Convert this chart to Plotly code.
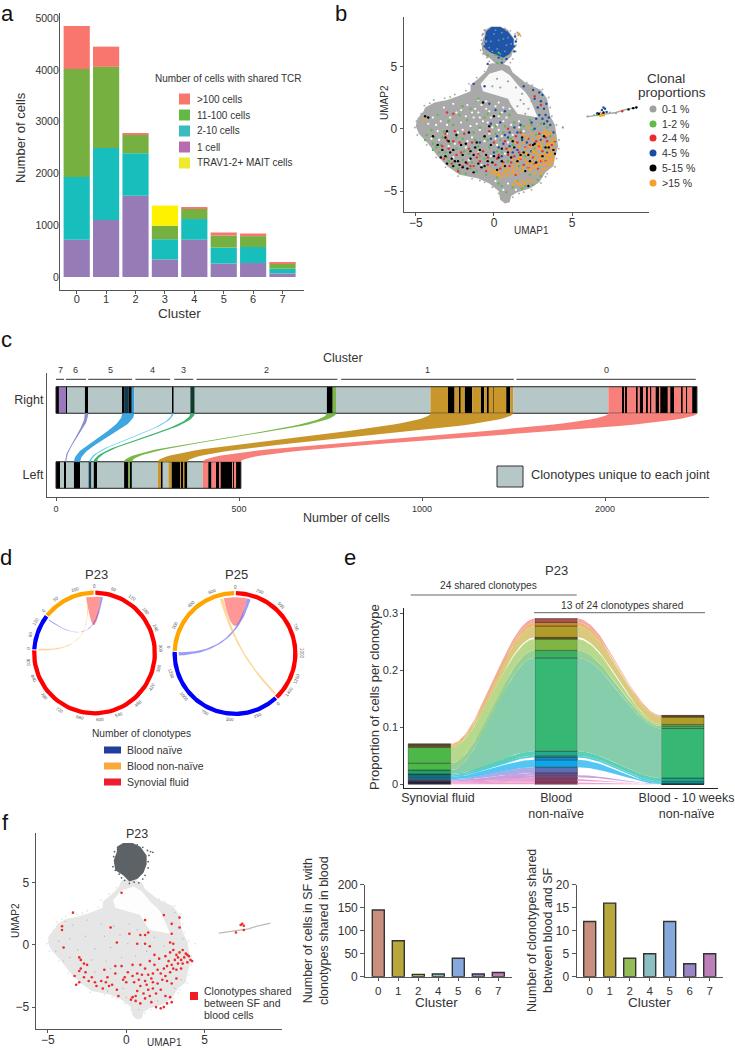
import numpy as np
import plotly.graph_objects as go

# ---------- DATA ----------
# a
a_clusters = [0, 1, 2, 3, 4, 5, 6, 7]
a_one = [720, 1100, 1570, 340, 720, 260, 270, 70]
a_2_10 = [1210, 1390, 820, 390, 400, 310, 310, 90]
a_11_100 = [2090, 1570, 360, 260, 210, 230, 210, 110]
a_mait = [0, 0, 0, 390, 0, 0, 0, 0]
a_100 = [830, 390, 20, 0, 20, 60, 50, 20]
a_legend = [">100 cells", "11-100 cells", "2-10 cells", "1 cell", "TRAV1-2+ MAIT cells"]

# b / f shared silhouette of the UMAP cloud
blob_x = [-5.0, -4.9, -4.5, -4.4, -3.8, -3.0, -2.3, -1.5, -1.5, -1.0, -0.5, -0.3, 0.4, 1.0, 1.2, 2.0, 3.0, 3.4, 3.5, 3.6, 3.9, 4.0, 4.1, 3.9, 3.8, 3.3, 2.9, 2.3, 1.5, 1.1, 1.0, 0.7, 0.4, 0.3, -0.3, -1.0, -2.2, -3.0, -3.6, -4.2, -4.8]
blob_y = [0.2, 0.8, 1.4, 1.7, 2.1, 2.3, 2.6, 3.0, 3.5, 4.0, 4.6, 5.2, 5.3, 5.0, 4.5, 3.7, 3.1, 2.4, 1.6, 1.0, 0.3, -0.6, -1.4, -2.3, -3.0, -3.5, -4.3, -4.8, -5.1, -5.4, -5.9, -6.0, -5.7, -5.0, -4.4, -4.0, -3.7, -3.0, -2.2, -1.2, -0.4]
hole_x = [-0.85, -0.3, 0.5, 1.0, 1.6, 2.0, 2.3, 2.6, 2.8, 1.5, 1.1, 0.9, 0.1, -0.7]
hole_y = [3.6, 4.4, 4.7, 4.3, 3.4, 2.95, 2.4, 1.4, 0.9, 1.2, 1.9, 2.4, 2.7, 3.0]
head_x = [-0.6, -0.2, 0.4, 0.9, 1.3, 1.3, 1.1, 0.7, 0.2, -0.2, -0.7, -0.8, -0.6]
head_y = [7.9, 8.2, 8.2, 7.9, 7.2, 6.5, 5.8, 5.3, 5.1, 5.6, 6.0, 6.8, 7.5]
head_core_x = [-0.5, -0.15, 0.4, 0.85, 1.25, 1.25, 1.0, 0.6, 0.2, -0.2, -0.55, -0.6]
head_core_y = [7.8, 8.15, 8.15, 7.85, 7.2, 6.5, 6.0, 5.7, 5.9, 6.1, 6.4, 7.0]
tail_x = [5.9, 6.5, 7.0, 7.8, 8.3, 9.2]
tail_y = [0.95, 1.05, 1.15, 1.3, 1.5, 1.75]
head_edge = [(-0.75,7.5),(-0.8,7.1),(-0.7,6.6),(-0.85,6.3),(-0.7,6.0),(-0.45,5.7),(-0.3,5.4),(-0.1,5.2),(0.2,4.95),(0.5,5.05),(0.8,5.0),(1.05,5.3),(1.2,5.6),(1.4,6.2),(1.4,6.7),(1.45,7.2),(1.35,7.6),(1.05,7.85),(0.7,8.05),(1.55,7.5),(1.7,7.45)]
head_gaps = [(0.0,7.6),(0.5,7.7),(0.9,7.3),(-0.2,7.0),(0.3,7.1),(0.8,6.7),(-0.3,6.5),(0.2,6.4),(0.7,6.2),(1.1,6.8),(0.1,7.9),(0.6,7.2),(-0.1,6.2),(0.4,6.0)]
blob_edge = [(-5.05,0.1),(-4.95,0.6),(-4.65,1.2),(-4.45,1.85),(-3.85,2.3),(-3.15,2.45),(-2.5,2.75),(-1.8,3.05),(-1.6,3.6),(-1.1,4.1),(-0.6,4.6),(1.25,4.35),(2.1,3.7),(3.1,3.15),(3.5,2.5),(3.6,1.7),(3.7,1.0),(4.0,0.3),(4.15,-0.9),(4.15,-1.6),(4.0,-2.4),(3.9,-3.05),(3.4,-3.6),(3.0,-4.35),(2.4,-4.9),(1.6,-5.2),(1.2,-5.5),(0.3,-5.2),(-0.1,-4.7),(-0.6,-4.3),(-1.4,-4.0),(-2.3,-3.8),(-3.1,-3.1),(-3.7,-2.3),(-4.3,-1.3),(-4.9,-0.5),(4.4,0.1),(-4.1,2.05),(-2.8,2.55),(2.45,3.5),(-0.9,-4.15),(3.3,-3.85),(1.9,-5.1)]

b_gaps = [(-3.2,1.7),(-2.6,2.0),(-2.1,1.5),(-1.7,1.9),(-1.2,1.6),(-1.0,1.3),(-0.5,1.6),(0.1,1.8),(0.5,1.3),(0.8,0.9),(1.0,1.6),(-0.2,0.9),(-0.7,0.6),(0.2,0.3),(-1.3,0.9),(-1.8,1.0),(-2.1,0.5),(-2.8,0.9),(-3.4,0.6),(-3.9,0.9),(-1.5,0.2),(-0.9,-0.1),(-0.3,-0.4),(0.5,-0.6),(1.1,0.3),(0.9,-1.1),(0.2,-1.3),(-0.6,-1.0),(-1.4,-0.7),(-2.3,-0.3),(-3.0,-0.4),(-2.5,-1.2),(-1.8,-1.5),(-1.0,-1.9),(-0.2,-2.2),(-3.5,-0.9),(-0.5,2.2),(0.3,2.1),(-1.0,2.3),(0.7,-2.0),(1.6,0.6),(1.9,-0.2),(-2.6,-2.3),(-1.6,-2.5),(-0.8,-2.9),(0.1,-4.2),(0.9,-4.4),(0.6,-4.9),(1.4,-4.9),(1.6,0.1),
 (-0.8,1.9),(-1.4,1.3),(-0.3,1.4),(0.3,1.0),(0.6,1.7),(-0.9,0.9),(-0.1,0.1),(0.6,0.6),(-2.4,1.3),(-3.0,0.3),(-3.7,0.3),(-4.2,0.4),(-2.0,-0.1),(-1.1,0.4),(-0.4,0.5),(0.3,-0.1),(1.2,-0.5),(0.1,-0.8),(-1.7,-1.0),(-2.9,-1.4),(-3.6,-0.2),(-4.0,-0.8)]
b_gray = [(-0.7,7.6),(-0.65,7.2),(-0.75,6.8),(-0.7,6.4),(-0.5,6.1),(-0.4,5.8),(0.0,5.5),(0.3,5.2),(0.6,5.3),(-0.6,7.9),(-0.5,7.0),(1.9,2.0),(1.5,1.8),(2.2,1.6),(2.0,1.2),(1.7,2.3),(1.2,1.4),(2.4,2.2),(6.0,1.0),(6.4,1.1),(7.4,1.3),(7.8,1.25),(6.8,1.3),(1.5,7.7),(0.8,7.9),(0.2,4.0),(0.9,3.8),(1.4,3.3),(1.8,2.8),(0.4,3.3),(-0.1,3.4),(4.4,0.1)]
b_green = [(0.1,5.9),(0.3,6.1),(0.5,5.6),(-0.4,5.9),(0.2,5.3),(3.3,-0.2),(3.0,0.4),(2.5,-0.1),(1.9,0.2),(1.3,0.5),(0.7,0.2),(0.1,-0.4),(-0.6,-0.7),(-1.3,-0.3),(-2.0,-0.8),(-2.8,-1.2),(-3.3,-0.7),(-3.9,-1.2),(-4.3,-0.5),(-3.5,-1.9),(-2.9,-2.6),(-2.3,-3.2),(-1.8,-3.6),(-1.1,-3.4),(-0.6,-2.4),(0.2,-1.8),(0.9,-2.6),(1.6,-3.0),(2.3,-3.7),(2.8,-4.1),(2.0,-4.6),(1.2,-4.7),(0.3,-4.4),(0.8,-5.1),(3.6,-0.6),(3.2,-1.5),(2.6,-1.6),(2.0,-2.2),(1.2,-1.3),(0.4,-0.9),(-1.0,-1.4),(-1.6,-2.0),(-2.4,-1.6),(-3.1,-1.9),(-4.0,-0.1),(-2.0,1.8),(-1.0,2.4),(-0.4,1.2),(1.0,1.1),(2.3,0.7),(-3.6,1.1),(-2.6,0.3),(-1.7,0.7),(-0.9,0.1),(6.6,1.1),(-2.2,-3.5),(-1.5,-3.2),(-3.7,-1.5),(1.5,-4.2),(0.2,-3.9),
 (-3.4,-1.3),(-3.0,-2.3),(-2.5,-2.7),(-2.0,-2.5),(-1.4,-2.7),(-0.9,-2.2),(-0.3,-1.5),(0.5,-1.9),(1.1,-0.8),(1.7,-0.1),(2.4,0.3),(3.4,0.1),(2.7,-0.5),(-3.8,-0.7),(-3.2,-0.2),(-2.4,-0.7),(-1.9,-1.8),(-1.2,-0.9),(-0.4,-0.9),(0.1,0.2),(0.6,-0.3),(-0.5,-3.7),(0.5,-4.6),(1.8,-4.8),(2.5,-4.5),(3.0,-3.8),(-4.4,-0.9),(-3.9,-1.7),(-2.7,-3.1),(-2.9,0.6),(-2.2,1.1),(-1.5,1.6),(-0.6,0.9),(0.4,1.2)]
b_red = [(2.9,-0.4),(2.2,-0.8),(1.5,-1.1),(0.8,-1.6),(0.2,-2.4),(-0.4,-2.9),(-1.1,-2.3),(-1.7,-2.8),(-2.4,-2.1),(-3.0,-0.9),(-3.1,-0.4),(-2.9,-1.6),(-2.2,-1.1),(-1.4,-1.1),(-0.7,-1.8),(0.0,-1.1),(0.6,-2.7),(1.3,-2.2),(1.9,-2.9),(2.5,-2.3),(3.1,-1.8),(3.4,-1.0),(2.7,-1.0),(2.0,-1.5),(1.0,-3.0),(0.4,-3.2),(-0.5,-3.4),(-1.3,-3.0),(-2.0,-3.0),(-2.7,-2.8),(-3.3,-1.4),(3.3,-2.6),(2.8,-3.2),(1.4,-3.7),(2.2,-3.1),(-3.0,1.3),(-2.6,1.2),(2.6,2.6),(3.0,1.9),(6.9,1.15),(7.0,1.2),(8.2,1.4),(-0.3,-0.2),(0.9,0.0),(1.7,-0.3),(3.7,-1.3),(-1.9,-0.4),(-0.9,-2.6),(3.0,-2.6),(1.7,-2.4),
 (-2.6,-1.0),(-2.1,-1.9),(-1.6,-1.6),(-1.0,-2.0),(-0.4,-2.3),(0.1,-2.9),(0.7,-1.0),(1.4,-0.6),(1.1,-2.7),(1.6,-1.9),(2.3,-1.3),(2.9,-1.4),(3.3,-0.7),(-2.5,-0.2),(-3.2,-2.4),(-2.3,-3.4),(-1.5,-3.0),(0.3,-2.1),(0.9,-2.1),(2.6,-2.8)]
b_blue = [(2.9,2.9),(2.5,3.1),(1.9,3.4),(2.6,2.4),(3.0,2.2),(3.2,1.6),(2.8,1.7),(3.3,1.1),(3.5,0.9),(2.9,1.1),(2.4,0.5),(3.2,0.4),(3.6,0.3),(2.6,0.0),(1.5,-0.3),(0.9,-0.7),(0.3,-1.5),(1.2,-1.9),(0.6,-1.2),(0.0,-1.9),(1.8,-0.9),(2.4,-1.8),(1.0,-0.3),(0.4,0.5),(1.3,0.1),(3.9,-1.0),(3.8,-0.3),(3.0,-0.9),(-0.6,3.4),(-1.3,3.6),(-0.4,5.2),(-0.3,2.0),(0.1,1.5),(-0.2,0.4),(0.7,1.4),(-0.9,-1.1),(-0.2,-0.8),(0.5,-2.2),(1.5,-1.7),(2.1,-1.1),(7.0,1.7),(7.1,1.6),(6.9,1.5),(7.2,1.35),(6.6,1.25),(0.7,6.0),(0.3,5.7),(1.4,7.0),(-0.6,6.6),(3.4,-1.9),
 (0.8,5.6),(0.5,5.3),(1.3,6.2),(-0.5,7.3),(1.3,6.6),(1.35,7.4),(3.1,2.7),(3.35,2.0),(3.1,0.8),(3.4,0.6),(2.7,0.8),(1.7,0.3),(1.0,-1.4),(0.2,-0.6),(0.7,-0.5)]
b_black = [(-4.4,1.0),(-4.2,0.9),(-3.9,-0.6),(-3.6,-1.3),(-3.3,-1.7),(-3.1,-2.2),(-2.9,-1.0),(-2.6,-1.7),(-2.7,-2.4),(-2.3,-2.6),(-2.0,-2.1),(-2.0,-3.1),(-1.7,-3.2),(-1.5,-2.4),(-1.2,-1.5),(-1.0,-2.8),(-0.8,-3.1),(-0.5,-2.1),(-0.1,-2.7),(0.3,-2.3),(0.7,-3.0),(1.1,-2.3),(1.5,-2.6),(1.9,-1.9),(2.3,-2.6),(2.7,-2.7),(3.1,-2.2),(3.5,-1.5),(3.8,-1.7),(3.2,-0.6),(2.5,-1.3),(1.8,-0.7),(1.2,-1.0),(0.5,-1.6),(-0.2,-1.3),(-0.6,-0.6),(-1.8,-1.2),(-2.4,-0.5),(-3.0,-0.2),(-0.3,0.2),(0.0,1.0),(-0.7,2.1),(-1.6,-0.3),(2.2,-4.6),(3.9,-2.0),(8.6,1.55),(8.9,1.65),(9.1,1.7),(7.0,1.3),(6.7,1.2),(2.0,-3.4),(-1.3,-3.5),(-2.6,-3.0),(-3.4,-2.3),
 (-3.1,-0.7),(-2.8,-1.9),(-2.5,-2.6),(-2.1,-1.3),(-1.8,-2.7),(-1.3,-2.1),(-0.9,-1.7),(-0.4,-2.6),(0.0,-2.2),(0.5,-2.6),(0.9,-1.9),(1.3,-1.5),(1.7,-2.1),(2.2,-2.1),(2.6,-1.2),(3.3,-1.5),(0.2,-3.3),(-0.6,-3.0),(-1.1,-1.1),(-1.5,-1.8),(-2.2,-2.9),(-3.0,-2.8)]
b_orange = [(3.7,-0.8),(3.5,-1.2),(3.8,-1.6),(3.3,-0.5),(3.6,-2.1),(3.1,-1.0),(3.4,-1.7),(3.7,-2.6),(2.9,-0.7),(3.2,-2.2),(3.5,-2.9),(2.7,-1.3),(3.0,-1.6),(3.3,-2.7),(3.6,-1.9),(2.5,-0.9),(2.8,-2.0),(3.1,-2.5),(3.4,-1.3),(3.7,-1.1),(2.3,-1.5),(2.6,-2.4),(2.9,-2.9),(3.2,-0.3),(3.5,-0.4),(2.1,-2.0),(2.4,-2.7),(2.7,-3.1),(3.0,-2.1),(3.3,-3.2),(1.9,-1.1),(2.2,-3.0),(2.5,-1.8),(2.8,-0.6),(3.1,-3.3),(3.4,-2.4),(1.7,-2.3),(2.0,-1.6),(2.3,-3.3),(2.6,-3.6),(2.9,-1.2),(1.5,-2.8),(1.8,-3.4),(2.1,-0.7),(2.4,-0.4),(1.2,-3.0),(1.5,-3.6),(1.8,-2.0),(0.9,-3.2),(1.2,-2.5),(0.6,-3.6),(0.9,-3.4),(0.3,-3.5),(0.6,-2.9),(0.0,-3.4),(0.3,-3.7),(-0.3,-3.2),(1.4,-4.2),(1.7,-4.5),(2.0,-4.4),(2.2,-4.1),(1.6,-1.4),(1.9,-0.5),(2.5,-4.2),(3.0,-3.6),(1.0,-1.7),(1.3,-1.0),(2.0,-2.5),(2.6,-1.9),(3.3,-0.2),(3.6,-2.9),(2.2,0.1),(3.75,-2.3),(3.55,-1.5),(3.85,-1.2),(3.65,-2.45),(3.25,-2.0),(2.95,-2.35),(2.65,-2.95),(1.45,-3.2),(1.15,-3.6),(0.85,-3.75),(6.9,1.1),(7.0,1.1),(6.8,1.05),(1.6,7.6),(-4.5,0.7),
 (3.85,-2.0),(3.75,-1.85),(3.6,-2.65),(3.45,-2.15),(3.15,-2.85),(2.85,-2.55),(2.45,-3.15),(2.15,-2.75),(1.85,-3.1),(1.55,-2.4),(1.25,-3.35),(0.7,-3.35),(0.45,-3.85),(0.1,-3.6),(-0.15,-3.55),(1.85,-4.2),(1.55,-4.4),(1.25,-4.5),(3.9,-0.9),(3.65,-0.35),(2.75,-1.65),(2.35,-2.2),(3.0,-1.35)]
b_legend = ["0-1 %", "1-2 %", "2-4 %", "4-5 %", "5-15 %", ">15 %"]

# c
cluster_names = ["7", "6", "5", "4", "3", "2", "1", "0"]
cluster_spans = [(0,22),(27,82),(88,208),(217,312),(323,375),(384,769),(779,1251),(1258,1748)]
# (segment end in cells, kind)
right_segments = [(8,'k'),(28,'7'),(30,'k'),(79,'u'),(88,'k'),(181,'u'),(186,'k'),(199,'d'),(207,'k'),(214,'5'),(318,'u'),(321,'k'),(367,'u'),(379,'e'),(740,'u'),(756,'k'),(765,'2'),(1023,'u'),
 (1071,'1'),(1089,'k'),(1103,'1'),(1105,'k'),(1117,'1'),(1137,'k'),(1161,'1'),(1170,'k'),(1179,'1'),(1182,'k'),(1194,'1'),(1195,'k'),(1230,'1'),(1241,'k'),(1249,'1'),(1509,'u'),
 (1548,'0'),(1552,'k'),(1556,'0'),(1560,'k'),(1586,'0'),(1589,'k'),(1595,'0'),(1604,'k'),(1613,'0'),(1617,'k'),(1624,'0'),(1626,'k'),(1638,'0'),(1648,'k'),(1651,'0'),(1667,'k'),(1669,'0'),(1671,'k'),(1678,'0'),(1689,'k'),(1692,'0'),(1710,'0'),(1712,'k'),(1722,'0'),(1724,'k'),(1738,'0'),(1751,'k')]
left_segments = [(11,'k'),(23,'u'),(28,'k'),(49,'u'),(66,'k'),(89,'u'),(97,'d'),(103,'u'),(112,'k'),(186,'u'),(198,'k'),(204,'2'),(207,'k'),(278,'u'),(289,'1'),(291,'k'),(307,'u'),(316,'1'),(339,'k'),(343,'1'),(348,'k'),(351,'1'),(359,'k'),(401,'u'),(416,'0'),(425,'k'),(439,'0'),(441,'k'),(446,'k'),(450,'0'),(483,'k'),(486,'0'),(489,'k'),(492,'0'),(505,'k')]
# right start, right end, left start, left end
flow_right0 = [79, 181, 316, 367, 740, 1023, 1509]
flow_right1 = [88, 214, 321, 379, 765, 1249, 1751]
flow_left0 = [25, 49, 91, 103, 186, 278, 401]
flow_left1 = [28, 66, 96, 112, 207, 359, 505]
c_ticks = [0, 500, 1000, 1500]
c_ticklabels = ["0", "500", "1000", "2000"]

# d : angles are clockwise degrees from the top
p23_sectors = [(0.8, 272.5), (273.5, 307.5), (308.5, 359.2)]
p25_sectors = [(0.8, 136.5), (137.5, 271.5), (272.5, 359.2)]
# (a1, a2, b1, b2) link ends
p23_links = [(-8.4, 6.5, None, None), (6.5, 8.5, 305.5, 306.5), (-8.6, -7.6, 272.6, 274.4)]
p25_links = [(-11.5, 12.5, None, None), (12.5, 16, 268, 271.4), (-15.5, -12, 133.5, 136)]
p23_tick_angles = [0, 17, 34, 51, 68, 86, 103, 121, 139, 158, 175, 193, 211, 229, 247, 262, 274, 286, 298, 310, 325, 343]
p23_tick_labels = ["0","60","120","180","240","300","360","420","480","540","600","660","720","780","840","900","0","60","120","0","50","100"]
p25_tick_angles = [0, 22, 44, 67, 90, 112, 125, 139, 160, 184, 207, 230, 252, 276, 295, 318, 340]
p25_tick_labels = ["0","250","500","750","1000","1250","1400","0","250","500","750","1000","1250","0","200","400","600"]
d_legend = ["Blood naïve", "Blood non-naïve", "Synovial fluid"]

# e : stacked clonotype proportions at each time point
e_columns = ["Synovial fluid", "Blood<br>non-naïve", "Blood - 10 weeks<br>non-naïve"]
e_syn = [.0015,.0015,.001,.001,.001,.001,.002,.004,0,.003,.002,.007,.012,.028,0,.003,.002,.001]
e_blood = [.003,.003,.0035,.003,.0035,.004,.010,.013,.004,.003,.008,.164,.013,.020,.003,.020,.006,.007]
e_wk = [.0002,0,.0002,0,.0002,0,0,.0014,0,.003,.006,.087,.004,.003,0,.013,.002,.001]

# f
f_red = [(-0.3,4.2),(-3.4,2.6),(-4.1,1.5),(-4.1,1.2),(-4.0,-0.2),(-1.0,1.4),(-0.6,0.2),(0.2,0.9),(0.9,0.8),(1.2,0.8),(1.4,1.0),(1.2,2.0),(2.4,2.4),(3.4,2.2),(2.9,1.7),(3.4,1.4),(2.9,0.9),(3.0,0.1),(2.8,0.2),(0.7,0.1),(1.2,0.1),(1.5,-0.1),
 (3.6,-0.4),(3.8,-0.7),(3.4,-0.6),(3.9,-0.8),(3.2,-0.8),(3.7,-1.0),(4.0,-0.9),(4.1,-1.2),(3.5,-1.2),(3.3,-1.0),(3.0,-0.4),(2.8,-0.6),(3.6,-1.5),(3.9,-1.4),(4.2,-1.3),(3.1,-1.2),(2.9,-1.6),(3.3,-1.5),(2.7,-1.3),(3.0,-1.9),(2.6,-1.7),(2.8,-2.2),(3.2,-2.0),(3.5,-1.9),(2.4,-1.9),(2.2,-2.3),(2.5,-2.5),(2.0,-2.0),(1.8,-1.6),(1.5,-1.3),(1.2,-1.9),(0.9,-1.6),(0.4,-1.6),(0.7,-2.3),(1.0,-2.4),(1.4,-2.4),(1.7,-2.3),(1.6,-2.7),(1.2,-2.9),(0.8,-2.8),(0.4,-2.5),(0.1,-2.2),(-0.3,-1.7),(-0.7,-1.7),(-0.1,-2.6),(-0.2,-2.8),(0.0,-3.0),(0.5,-3.0),(0.9,-3.3),(1.3,-3.2),(1.7,-3.0),(2.0,-3.1),(2.3,-2.8),(2.6,-2.9),(2.9,-3.1),(3.2,-2.7),(1.7,-3.5),(1.4,-3.6),(1.1,-3.9),(1.5,-4.1),(1.9,-3.9),(2.2,-3.6),(0.7,-3.7),(0.4,-4.2),(0.6,-4.5),(0.9,-4.7),(0.3,-4.4),(0.6,-4.1),(1.9,-5.0),(2.2,-5.1),(2.4,-5.0),(2.6,-4.7),(2.9,-4.6),(2.8,-4.2),(2.5,-4.1),(1.6,-4.6),(1.2,-4.3),(-2.7,-1.5),(-2.5,-1.6),(-2.9,-1.9),(-3.0,-2.1),(-2.6,-2.2),(-3.3,-2.5),(-3.0,-3.0),(-3.2,-3.2),(-2.7,-2.6),(-2.4,-2.9),(-2.2,-2.6),(-2.0,-3.0),(-1.9,-3.3),(-1.6,-2.9),(-1.5,-3.5),(-1.3,-3.0),(-1.2,-2.6),(-0.9,-3.2),(-1.1,-3.3),(-0.6,-3.6),(-0.7,-2.3),(-1.4,-2.0),(-0.5,-4.1),(7.4,1.7),(7.5,1.55),(7.3,1.6),(7.5,1.2),(7.0,1.0),(-3.0,-1.0),(-2.9,-1.2),(2.1,-1.1),(1.8,-0.8),(2.5,-0.9)]
f_gaps = [(-3.4,1.6),(-2.5,2.0),(-1.6,1.7),(-0.8,1.5),(0.2,1.7),(0.7,1.2),(-0.4,0.8),(-1.4,0.7),(-2.6,0.7),(-3.6,0.5),(-4.3,0.3),(-3.1,-0.4),(-2.0,-0.3),(-1.0,-0.2),(0.1,0.1),(1.8,0.6),(2.4,-0.1),(-3.6,-1.0),(-2.2,-1.2),(-1.3,-1.3),(-0.3,-1.0),(0.6,-0.9),(1.3,-0.5),(-2.0,-2.2),(-1.0,-1.9),(-0.2,-3.5),(-1.2,-3.7),(0.0,-4.2),(0.8,-5.2),(2.0,-4.5),(3.1,-3.5),(3.5,-2.8),(-4.5,-0.5),(-4.0,-1.3),(3.6,0.5),(3.1,2.6),(-3.9,1.9)]
f_clusters = ["0", "1", "2", "4", "5", "6", "7"]
f_cells = [145, 78, 5, 6, 40, 6, 9]
f_clonotypes = [12, 16, 4, 5, 12, 2.8, 5]

# ---------- STYLE ----------
W, H = 735, 1050
FONT = "Liberation Sans"
TXT = "#333333"
AX = "#555555"
c_kind = {'k':'#000000','u':'#B5C7C7','7':'#9E78BE','d':'#123A4D','5':'#2F9BE0','e':'#0E3B2E','2':'#7AB648','1':'#C8962A','0':'#F8807A'}
flow_colors_c = ['#8B8FD0','#3FA7E0','#5BC8EF','#3FB56B','#7AB648','#C8962A','#F8807A']
e_flow = ['#EE9CCB','#EE9CCB','#E89AD0','#E89AD0','#C79BDC','#C79BDC','#A7A6E6','#4CC3F3','#FFFFFF','#4AC9DE','#53CDB0','#7FCAA8','#90CE90','#B4D786','#FFFFFF','#D9C777','#EDB26A','#F3A7A0']
e_blood_bar = ['#B03A6C','#A8486F','#A84A78','#9A4C82','#864F8F','#7E5499','#5B6FB5','#0EA5E9','#0E8FD0','#159BA5','#1FA98F','#36B874','#3CB061','#7EB545','#6B5B1E','#B09C2B','#C98A2A','#A84F50']
e_syn_bar = ['#23124F','#23124F','#23124F','#5A4E9C','#5A4E9C','#7B7BC0','#5B6FB5','#0D7FA0','#0D7FA0','#0F8F96','#127C70','#1F9F6A','#4CB848','#4CB848','#4CB848','#7A5A1C','#7A5A1C','#7A5A1C']
e_wk_bar = ['#101030','#101030','#101030','#101030','#101030','#101030','#101030','#0E9090','#0E9090','#109FA0','#16A88F','#36B874','#3CB061','#6FAF45','#6FAF45','#B09C2B','#8A6A1C','#A84F50']
f_colors = ['#C98F7E','#B8A73A','#95BD55','#8CBFC2','#85A9DD','#9A85C7','#BC7FB7']

fig = go.Figure()
axes_layout, shapes, notes = {}, [], []
axis_count = [0]

def px(x): return x / W
def py(y): return 1 - y / H

def txt(x, y, s, size=11, anchor='center', angle=0, color=TXT):
    notes.append(dict(x=px(x), y=py(y), xref='paper', yref='paper', text=s, showarrow=False,
                      font=dict(size=size, color=color, family=FONT), xanchor=anchor, yanchor='middle', textangle=angle, align='center' if anchor == 'center' else 'left'))

def line(x0, x1, y, color='#666666', width=1):
    shapes.append(dict(type='line', xref='paper', yref='paper', x0=px(x0), x1=px(x1), y0=py(y), y1=py(y), line=dict(color=color, width=width)))

def swatch(x0, x1, y0, y1, color, circle=False):
    shapes.append(dict(type='circle' if circle else 'rect', xref='paper', yref='paper', x0=px(x0), x1=px(x1), y0=py(y0), y1=py(y1), fillcolor=color, line=dict(width=0)))

def make_axes(box, xr, yr, xkw=None, ykw=None):
    axis_count[0] += 1
    n = axis_count[0]
    x0, y0, x1, y1 = box
    base = dict(showgrid=False, zeroline=False, showline=True, automargin=False, linecolor=AX, linewidth=1.2, ticks='outside', ticklen=3, tickcolor=AX,
                tickfont=dict(size=11, color=TXT, family=FONT), fixedrange=True)
    xa = dict(base); ya = dict(base)
    xa.update(domain=[px(x0), px(x1)], range=xr, anchor=f'y{n}')
    ya.update(domain=[py(y1), py(y0)], range=yr, anchor=f'x{n}')
    xa.update(xkw or {}); ya.update(ykw or {})
    axes_layout[f'xaxis{n}'] = xa; axes_layout[f'yaxis{n}'] = ya
    return dict(xaxis=f'x{n}', yaxis=f'y{n}')

def add_points(ref, pts, color, size=2.6):
    xs, ys = zip(*pts)
    fig.add_trace(go.Scatter(x=xs, y=ys, mode='markers', marker=dict(color=color, size=size, line=dict(width=0)), hoverinfo='skip', **ref))

def add_poly(ref, xs, ys, color, opacity=1):
    fig.add_trace(go.Scatter(x=list(xs), y=list(ys), mode='lines', fill='toself', fillcolor=color, line=dict(width=0), opacity=opacity, hoverinfo='skip', **ref))

# ---------- PANEL A ----------
ref = make_axes((60, 13, 304, 290), [-0.568, 7.73], [-251, 5100],
                dict(tickvals=a_clusters, ticklabelstandoff=-4, tickfont=dict(size=11, color=TXT, family=FONT)),
                dict(tickvals=[0, 1000, 2000, 3000, 4000, 5000], ticklen=0, ticklabelstandoff=-2, tickfont=dict(size=10.5, color=TXT, family=FONT)))
bottom = np.zeros(8)
for vals, col in [(a_one, '#967BB6'), (a_2_10, '#17BEBB'), (a_11_100, '#76B041'), (a_mait, '#FFF200'), (a_100, '#F8766D')]:
    fig.add_trace(go.Bar(x=a_clusters, y=vals, base=bottom.tolist(), width=0.89, marker=dict(color=col, line=dict(width=0)), hoverinfo='skip', **ref))
    bottom = bottom + np.array(vals)
txt(20, 138, "Number of cells", 13, angle=-90)
txt(179, 313, "Cluster", 13.5)
txt(228, 78, "Number of cells with shared TCR", 10)
for lab, col, y in zip(a_legend, ['#F8766D', '#63B946', '#38BCC0', '#B96BB0', '#EFE92D'], [99, 115, 131, 147, 163]):
    swatch(179, 190, y - 5.5, y + 5.5, col)
    txt(195, y, lab, 10, anchor='left')

# ---------- PANEL B ----------
ref = make_axes((403.7, 17, 649, 212), [-5.77, 9.91], [-6.68, 8.96],
                dict(tickvals=[-5, 0, 5], ticklen=3, ticklabelstandoff=-4, tickfont=dict(size=12, color=TXT, family=FONT)),
                dict(tickvals=[-5, 0, 5], ticklen=3, tickfont=dict(size=12, color=TXT, family=FONT)))
add_poly(ref, blob_x, blob_y, '#A9A9A9')
add_poly(ref, hole_x, hole_y, '#FFFFFF', 0.92)
add_poly(ref, head_x, head_y, '#A9A9A9')
add_poly(ref, head_core_x, head_core_y, '#1F56A8')
fig.add_trace(go.Scatter(x=tail_x, y=tail_y, mode='lines', line=dict(color='#A9A9A9', width=1.5), hoverinfo='skip', **ref))
add_points(ref, blob_edge, '#A9A9A9', 1.9)
add_points(ref, head_edge, '#A9A9A9', 1.9)
add_points(ref, head_gaps, '#6F8FC4', 1.8)
add_points(ref, b_gaps, '#FFFFFF', 2.2)
add_points(ref, b_gray, '#A0A0A0', 2.2)
add_points(ref, b_green, '#5FBB46', 2.4)
add_points(ref, b_red, '#EE2B2B', 2.4)
add_points(ref, b_blue, '#1C4EA0', 2.4)
add_points(ref, b_orange, '#F6A02B', 3)
add_points(ref, b_black, '#000000', 2.4)
txt(531, 230, "UMAP1", 10)
txt(384, 103, "UMAP2", 10, angle=-90)
txt(666, 79, "Clonal", 13.5)
txt(672, 93, "proportions", 13.5)
for lab, col, y in zip(b_legend, ['#A0A0A0', '#5FBB46', '#EE2B2B', '#1C4EA0', '#000000', '#F6A02B'], [109, 124, 138, 153, 168, 183]):
    swatch(649.5, 656.5, y - 3.5, y + 3.5, col, circle=True)
    txt(660, y, lab, 10.5, anchor='left')

# ---------- PANEL C ----------
ref = make_axes((47, 373, 709, 497), [-24.6, 1784], [-0.293, 1.36],
                dict(tickvals=c_ticks, ticktext=c_ticklabels, ticklen=3, tickfont=dict(size=9, color=TXT, family=FONT)),
                dict(tickvals=[0, 1], ticktext=["Left", "Right"], ticklen=0, tickfont=dict(size=12.5, color=TXT, family=FONT)))
BAR_H = 0.354
t = np.linspace(0, 1, 40)
s = 3 * t**2 - 2 * t**3
yt, yb = 1 - BAR_H / 2, BAR_H / 2
ys_curve = yt + (yb - yt) * t
for r0, r1, l0, l1, col in zip(flow_right0, flow_right1, flow_left0, flow_left1, flow_colors_c):
    e0 = r0 + (l0 - r0) * s
    e1 = r1 + (l1 - r1) * s
    add_poly(ref, np.r_[e0, e1[::-1]], np.r_[ys_curve, ys_curve[::-1]], col)
for segs, yv in [(right_segments, 1), (left_segments, 0)]:
    ends = [e for e, _ in segs]
    starts = [0] + ends[:-1]
    fig.add_trace(go.Bar(x=[e - b for e, b in zip(ends, starts)], base=starts, y=[yv] * len(ends), orientation='h', width=BAR_H,
                         marker=dict(color=[c_kind[k] for _, k in segs], line=dict(width=0)), hoverinfo='skip', **ref))
    fig.add_trace(go.Bar(x=[ends[-1]], base=[0], y=[yv], orientation='h', width=BAR_H,
                         marker=dict(color='rgba(0,0,0,0)', line=dict(color='#222222', width=1)), hoverinfo='skip', **ref))
for nm, (a0, a1) in zip(cluster_names, cluster_spans):
    line(56 + a0 * 0.366, 56 + a1 * 0.366, 379.3, '#333333', 1)
    txt(56 + (a0 + a1) / 2 * 0.366, 370, nm, 9)
txt(343, 358, "Cluster", 12.5)
txt(346, 518, "Number of cells", 12.5)
shapes.append(dict(type='rect', xref='paper', yref='paper', x0=px(497), x1=px(523), y0=py(466), y1=py(487), fillcolor='#B5C7C7', line=dict(color='#333333', width=1)))
txt(529, 475, "Clonotypes unique to each joint", 12.8, anchor='left')

# ---------- PANEL D ----------
def pol(angle, r):
    a = np.radians(angle)
    return r * np.sin(a), r * np.cos(a)

def ring(ref, sectors):
    for (a0, a1), col in zip(sectors, ['#FF0000', '#0000FF', '#FFA500']):
        aa = np.linspace(a0, a1, 80)
        xo, yo = pol(aa, 62.5); xi, yi = pol(aa, 58.2)
        add_poly(ref, np.r_[xo, xi[::-1]], np.r_[yo, yi[::-1]], col)

def bez(p0, p2):
    u = np.linspace(0, 1, 40)[:, None]
    return (1 - u)**2 * np.array(p0) + u**2 * np.array(p2)   # control point is the circle centre

def links(ref, rows, cols):
    for (a1, a2, b1, b2), col in zip(rows, cols):
        R = 56.3
        arc = np.array(pol(np.linspace(a1, a2, 20), R)).T
        if b1 is None:
            path = np.vstack([arc, bez(arc[-1], arc[0])])
        else:
            arc2 = np.array(pol(np.linspace(b1, b2, 20), R)).T
            path = np.vstack([arc, bez(arc[-1], arc2[0]), arc2, bez(arc2[-1], arc[0])])
        add_poly(ref, path[:, 0], path[:, 1], col, 0.5)

for label, cx, cy, sectors, lk, angs, labs in [
        ("P23", 94.5, 653, p23_sectors, p23_links, p23_tick_angles, p23_tick_labels),
        ("P25", 235, 653.5, p25_sectors, p25_links, p25_tick_angles, p25_tick_labels)]:
    box = (cx - 72, cy - 72, cx + 72, cy + 72)
    ref = make_axes(box, [-72, 72], [-72, 72], dict(visible=False), dict(visible=False))
    ring(ref, sectors)
    links(ref, lk, ['#FF3030', '#3A3AF5', '#FFB030'])
    for a, lb in zip(angs, labs):
        rx, ry = pol(a, 66.5)
        rot = a if (a <= 90 or a >= 270) else a + 180
        txt(cx + rx, cy - ry, lb, 4.5, angle=rot, color='#555555')
    txt(cx + 1.5, 574, label, 13)
txt(141, 733.7, "Number of clonotypes", 10.2)
for lab, col, y in zip(d_legend, ['#1F3E9E', '#F9A93A', '#ED1C2E'], [750, 766, 782]):
    swatch(104, 121, y - 3.5, y + 3.5, col)
    txt(125, y, lab, 10.5, anchor='left')

# ---------- PANEL E ----------
ref = make_axes((404.3, 608, 717.7, 788), [-0.199, 2.276], [-0.0065, 0.3095],
                dict(tickvals=[0.067, 1.0, 2.03], ticktext=e_columns, ticklen=0, ticklabelstandoff=-2, linecolor='#222222', tickfont=dict(size=12.5, color=TXT, family=FONT)),
                dict(tickvals=[0, 0.1, 0.2, 0.3], ticktext=["0", "0.1", "0.2", "0.3"], linecolor='#222222', tickfont=dict(size=11, color=TXT, family=FONT)))
cum = lambda v: np.r_[0, np.cumsum(v)]
c_syn, c_blood, c_wk = cum(e_syn), cum(e_blood), cum(e_wk)
BW = 0.336
tt = np.linspace(0, 1, 40)
ss = 3 * tt**2 - 2 * tt**3
for (ca, cb, xa_, xb_, right) in [(c_syn, c_blood, BW / 2, 1 - BW / 2, False), (c_blood, c_wk, 1 + BW / 2, 2 - BW / 2, True)]:
    xx = xa_ + (xb_ - xa_) * tt
    for i, col in enumerate(e_flow):
        if ca[i + 1] - ca[i] <= 0 or cb[i + 1] - cb[i] <= 0:
            continue
        lo = ca[i] + (cb[i] - ca[i]) * ss
        hi = ca[i + 1] + (cb[i + 1] - ca[i + 1]) * ss
        add_poly(ref, np.r_[xx, xx[::-1]], np.r_[lo, hi[::-1]], col, 0.95)
for col_x, vals, cols in [(0, e_syn, e_syn_bar), (1, e_blood, e_blood_bar), (2, e_wk, e_wk_bar)]:
    c = cum(vals)
    keep = [i for i, v in enumerate(vals) if v > 0]
    fig.add_trace(go.Bar(x=[col_x] * len(keep), y=[vals[i] for i in keep], base=[c[i] for i in keep], width=BW,
                         marker=dict(color=[cols[i] for i in keep], line=dict(color='rgba(20,20,20,0.55)', width=0.7)), hoverinfo='skip', **ref))
txt(374, 697, "Proportion of cells per clonotype", 13, angle=-90)
txt(556.7, 570, "P23", 13)
txt(488, 585.7, "24 shared clonotypes", 10.2)
line(410.7, 576.7, 595, '#666666', 1)
txt(622.7, 605.7, "13 of 24 clonotypes shared", 10.2)
line(534, 705, 612.7, '#666666', 1)

# ---------- PANEL F ----------
ref = make_axes((35.7, 832.7, 281.7, 1029), [-5.78, 9.92], [-6.76, 9.03],
                dict(tickvals=[-5, 0, 5], ticklabelstandoff=-4, tickfont=dict(size=12, color=TXT, family=FONT)),
                dict(tickvals=[-5, 0, 5], tickfont=dict(size=12, color=TXT, family=FONT)))
add_poly(ref, blob_x, blob_y, '#E6E6E6')
add_poly(ref, hole_x, hole_y, '#FFFFFF', 0.92)
add_poly(ref, head_x, head_y, '#5D6266')
fig.add_trace(go.Scatter(x=tail_x, y=tail_y, mode='lines', line=dict(color='#BBBBBB', width=1.2), hoverinfo='skip', **ref))
add_points(ref, blob_edge, '#E6E6E6', 1.8)
add_points(ref, head_edge, '#5D6266', 1.8)
add_points(ref, f_gaps, '#B8B8B8', 1.4)
add_points(ref, f_red, '#EE2B2B', 2.6)
txt(137, 834, "P23", 12.5)
txt(164, 1042.5, "UMAP1", 10)
txt(15, 920, "UMAP2", 10, angle=-90)
swatch(190, 198, 992, 1000, '#EE1C25')
for y, s_ in zip([990.5, 1003, 1015], ["Clonotypes shared", "between SF and", "blood cells"]):
    txt(202, y, s_, 10.5, anchor='left')

for (x0, x1), vals, ymax, ytk, lab, xc, cxc in [
        ((365.3, 511.7), f_cells, 200, [0, 50, 100, 150, 200], "Number of cells in SF with<br>clonotypes shared in blood", 316, 437),
        ((576.7, 723.3), f_clonotypes, 20, [0, 5, 10, 15, 20], "Number of clonotypes shared<br>between blood and SF", 540, 649)]:
    first = 378.3 if x0 < 400 else 589.7
    ref = make_axes((x0, 884.7, x1, 976.7), [(x0 - first) / 20, (x1 - first) / 20], [0, ymax],
                    dict(tickvals=list(range(7)), ticktext=f_clusters, ticklen=3, tickfont=dict(size=11.5, color=TXT, family=FONT)),
                    dict(tickvals=ytk, ticklen=4, tickfont=dict(size=12, color=TXT, family=FONT)))
    fig.add_trace(go.Bar(x=list(range(7)), y=vals, width=0.6, marker=dict(color=f_colors, line=dict(color='#333333', width=1.4)), hoverinfo='skip', **ref))
    txt(xc, 931, lab, 12.5, angle=-90)
    txt(cxc, 1002.5, "Cluster", 13.5)

# panel letters
for lab, x, y in [("a", 7, 14), ("b", 341, 14), ("c", 6, 340), ("d", 6, 557), ("e", 350, 557), ("f", 5, 822)]:
    txt(x, y, lab, 22, color='#111111')

fig.update_layout(template='none', width=W, height=H, autosize=False, margin=dict(l=0, r=0, t=0, b=0), showlegend=False, barmode='overlay',
                  plot_bgcolor='white', paper_bgcolor='white', font=dict(family=FONT, color=TXT), shapes=shapes, annotations=notes, **axes_layout)
fig.write_html("out.html", config=dict(displayModeBar=False, responsive=False), post_script="document.body.style.margin='0';")
